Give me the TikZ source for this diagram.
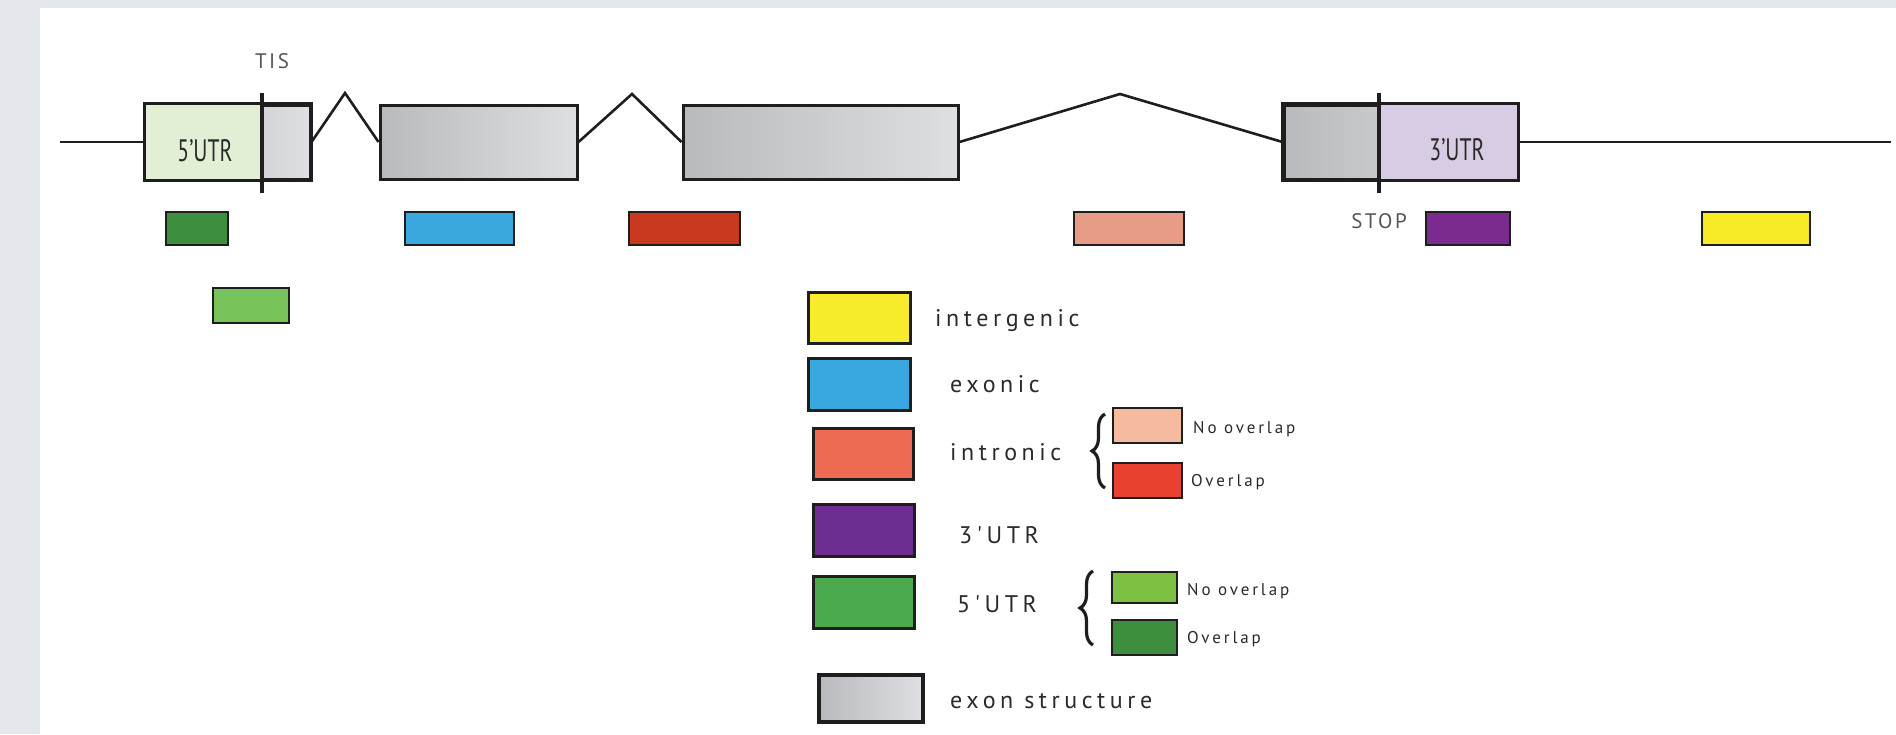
\documentclass[tikz,border=0pt]{standalone}
\usepackage{fontspec}
\setmainfont{PT Sans}
\newfontfamily\keyfont[LetterSpace=19]{PT Sans}
\newfontfamily\subfont[LetterSpace=17]{PT Sans}
\newfontfamily\markfont[LetterSpace=12]{PT Sans}
\usetikzlibrary{decorations.pathreplacing}

% palette
\definecolor{bgpanel}{HTML}{E3E6EA}
\definecolor{linec}{HTML}{1E1E1E}
\definecolor{txt}{HTML}{2A2A2A}
\definecolor{exdark}{HTML}{B9BABE}
\definecolor{exlight}{HTML}{DEDFE2}
\definecolor{utrfive}{HTML}{E2EFD5}
\definecolor{utrthree}{HTML}{D8CCE4}
\definecolor{hFiveOv}{HTML}{3E8E3F}
\definecolor{hFiveNo}{HTML}{78C25A}
\definecolor{hExon}{HTML}{3BA7DF}
\definecolor{hIntrOv}{HTML}{C9391F}
\definecolor{hIntrNo}{HTML}{E69C85}
\definecolor{hThree}{HTML}{7A2B8D}
\definecolor{hInter}{HTML}{F7EB25}
\definecolor{kInter}{HTML}{F6EC2B}
\definecolor{kExon}{HTML}{3AA8E0}
\definecolor{kIntr}{HTML}{EE6A51}
\definecolor{kThree}{HTML}{6B2D8F}
\definecolor{kFive}{HTML}{4BAA4E}
\definecolor{kIntrNo}{HTML}{F5BA9F}
\definecolor{kIntrOv}{HTML}{E9412F}
\definecolor{kFiveNo}{HTML}{7DC142}
\definecolor{kFiveOv}{HTML}{3D8F3E}

\begin{document}
\begin{tikzpicture}[x=1pt,y=-1pt,
  rna/.style={draw=linec, line width=2.6pt},
  exonbox/.style={rectangle, inner sep=0pt, draw=linec, line width=3pt,
                  left color=exdark, right color=exlight},
  hitbox/.style={rectangle, inner sep=0pt, draw=linec, line width=2.6pt},
  keybox/.style={rectangle, inner sep=0pt, draw=linec, line width=3pt},
  keytext/.style={anchor=base west, inner sep=0pt, text=txt,
                  font=\keyfont\fontsize{24}{24}\selectfont},
  subtext/.style={anchor=base west, inner sep=0pt, text=txt,
                  font=\subfont\fontsize{17}{17}\selectfont},
  marktext/.style={inner sep=0pt, text=txt!80,
                  font=\markfont\fontsize{21}{21}\selectfont},
  utrtext/.style={inner sep=0pt, text=txt,
                  font=\fontsize{31}{31}\selectfont},
  sitemark/.style={draw=linec, line width=3.6pt},
  curly/.style={draw=linec, line width=3.2pt, decorate,
                decoration={brace, amplitude=13pt}}
]
\useasboundingbox (0,0) rectangle (1896,734);
\fill[bgpanel] (0,0) rectangle (1896,734);
\fill[white] (40,8) rectangle (1896,734);

% ---------------- gene model ----------------
\node[exonbox, minimum width=164pt, minimum height=74pt] (ex1) at (228,142) {};
\node[exonbox, minimum width=197pt, minimum height=74pt] (ex2) at (478.5,142) {};
\node[exonbox, minimum width=275pt, minimum height=74pt] (ex3) at (820.5,142) {};
\node[exonbox, minimum width=233pt, minimum height=74pt] (ex4) at (1400.5,142) {};

% untranslated parts of the first and last exons
\fill[utrfive] (ex1.north west) rectangle (262,179);
\fill[utrthree] (1379,105) rectangle (ex4.south east);
\draw[linec, line width=3pt] (ex1.south west) rectangle (ex1.north east);
\draw[linec, line width=3pt] (ex4.south west) rectangle (ex4.north east);

\node[utrtext] (u5) at (205,151) {\scalebox{0.7}[1]{5'UTR}};
\node[utrtext] (u3) at (1457,150) {\scalebox{0.7}[1]{3'UTR}};

% translation start and stop
\coordinate (tisT) at (262,93);  \coordinate (tisB) at (262,193);
\coordinate (stpT) at (1379,93); \coordinate (stpB) at (1379,193);
\draw[sitemark] (tisT) -- (tisB);
\draw[sitemark] (stpT) -- (stpB);
\node[marktext] (tis) at (272,61) {TIS};
\node[marktext] (stop) at (1379,221) {STOP};

% flanking sequence and introns
\coordinate (lend) at (60,142);
\coordinate (rend) at (1891,142);
\coordinate (pk1) at (345,93);
\coordinate (pk2) at (632,94);
\coordinate (pk3) at (1120,94);
\draw[rna] (lend) -- (ex1.west);
\draw[rna] (ex4.east) -- (rend);
\draw[rna, line join=miter] (ex1.east) -- (pk1) -- (ex2.west);
\draw[rna, line join=miter] (ex2.east) -- (pk2) -- (ex3.west);
\draw[rna, line join=miter] (ex3.east) -- (pk3) -- (ex4.west);

% ---------------- annotated hits ----------------
\node[hitbox, fill=hFiveOv, minimum width=62pt,  minimum height=33pt] (hfo) at (197,228.5) {};
\node[hitbox, fill=hFiveNo, minimum width=76pt,  minimum height=35pt] (hfn) at (251,305.5) {};
\node[hitbox, fill=hExon,   minimum width=109pt, minimum height=33pt] (hex) at (459.5,228.5) {};
\node[hitbox, fill=hIntrOv, minimum width=111pt, minimum height=33pt] (hio) at (684.5,228.5) {};
\node[hitbox, fill=hIntrNo, minimum width=110pt, minimum height=33pt] (hin) at (1129,228.5) {};
\node[hitbox, fill=hThree,  minimum width=84pt,  minimum height=33pt] (hth) at (1468,228.5) {};
\node[hitbox, fill=hInter,  minimum width=108pt, minimum height=33pt] (hig) at (1756,228.5) {};

% ---------------- legend ----------------
\node[keybox, fill=kInter, minimum width=102pt, minimum height=51pt] (kig) at (859,317.5) {};
\node[keybox, fill=kExon,  minimum width=102pt, minimum height=52pt] (kex) at (859,384) {};
\node[keybox, fill=kIntr,  minimum width=100pt, minimum height=51pt] (kin) at (863,453.5) {};
\node[keybox, fill=kThree, minimum width=101pt, minimum height=52pt] (kth) at (863.5,530) {};
\node[keybox, fill=kFive,  minimum width=101pt, minimum height=52pt] (kfv) at (863.5,602) {};
\node[keybox, line width=3.6pt, left color=exdark, right color=exlight,
      minimum width=104pt, minimum height=47pt] (kes) at (871,698.5) {};

\node[keytext] (tig) at (935,326) {intergenic};
\node[keytext] (tex) at (950,392) {exonic};
\node[keytext] (tin) at (950,460) {intronic};
\node[keytext] (tth) at (959,543) {3'UTR};
\node[keytext] (tfv) at (957,612) {5'UTR};
\node[keytext] (tes) at (950,708) {exon structure};

% intronic sub-classes
\node[keybox, line width=2.6pt, fill=kIntrNo, minimum width=69pt, minimum height=35pt] (kino) at (1147.5,425.5) {};
\node[keybox, line width=2.6pt, fill=kIntrOv, minimum width=69pt, minimum height=35pt] (kiov) at (1147.5,480.5) {};
\node[subtext] (tino) at (1193,433) {No overlap};
\node[subtext] (tiov) at (1191,486) {Overlap};
\coordinate (bi1) at (1105,488);
\coordinate (bi2) at (1105,414);
\draw[curly] (bi1) -- (bi2);

% 5'UTR sub-classes
\node[keybox, line width=2.6pt, fill=kFiveNo, minimum width=65pt, minimum height=31pt] (kfno) at (1144.5,587.5) {};
\node[keybox, line width=2.6pt, fill=kFiveOv, minimum width=65pt, minimum height=35pt] (kfov) at (1144.5,637.5) {};
\node[subtext] (tfno) at (1187,595) {No overlap};
\node[subtext] (tfov) at (1187,643) {Overlap};
\coordinate (bf1) at (1093,645);
\coordinate (bf2) at (1093,571);
\draw[curly] (bf1) -- (bf2);
\end{tikzpicture}
\end{document}
